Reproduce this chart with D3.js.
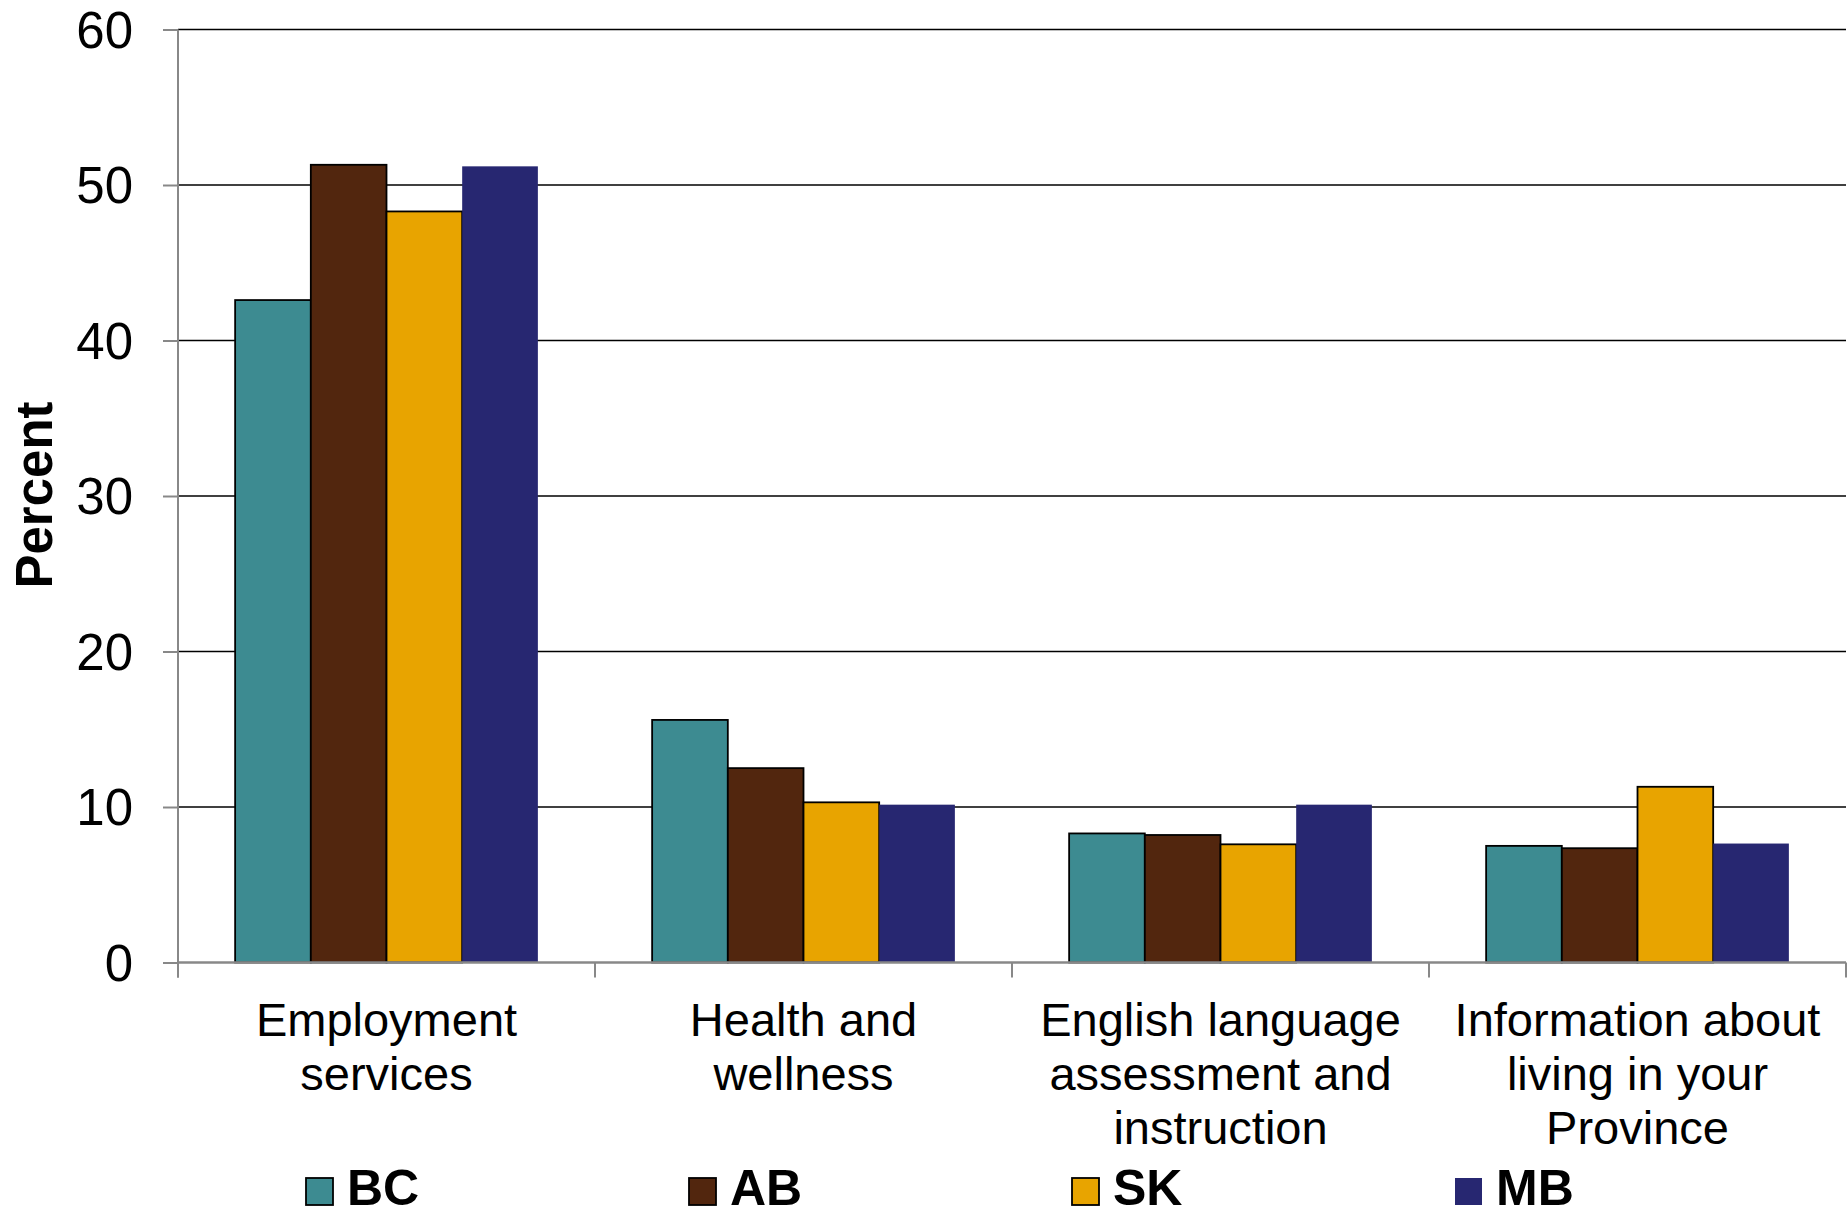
<!DOCTYPE html>
<html>
<head>
<meta charset="utf-8">
<script src="https://cdn.jsdelivr.net/npm/d3@7"></script>
<style>
  html, body { margin: 0; padding: 0; background: #fff; }
  svg { display: block; font-family: "Liberation Sans", Arial, sans-serif; }
</style>
</head>
<body>
<svg id="chart" width="1847" height="1218"></svg>
<script>
const categories = [
  ["Employment", "services"],
  ["Health and", "wellness"],
  ["English language", "assessment and", "instruction"],
  ["Information about", "living in your", "Province"]
];
const seriesNames = ["BC", "AB", "SK", "MB"];
const BC = [42.6, 15.6, 8.3, 7.5];
const AB = [51.3, 12.5, 8.2, 7.35];
const SK = [48.3, 10.3, 7.6, 11.3];
const MB = [51.2, 10.15, 10.15, 7.65];
const seriesValues = [BC, AB, SK, MB];
const yTicks = [0, 10, 20, 30, 40, 50, 60];
const colors = ["#3D8B91", "#52260E", "#E8A400", "#272771"];
const outlined = [true, true, true, false];

(function () {
const svg = d3.select("#chart");
const pLeft = 178, pRight = 1846, pTop = 29.5, pBottom = 962.5;

const x0 = d3.scaleBand().domain(d3.range(categories.length)).range([pLeft, pRight]).paddingInner(0).paddingOuter(0);
const groupFrac = 257 / 354;
const x1 = d3.scaleBand().domain(d3.range(seriesNames.length))
  .range([0, x0.bandwidth() * groupFrac]).padding(0);
const groupOffset = x0.bandwidth() * (1 - groupFrac) / 2;
const y = d3.scaleLinear().domain([0, 60]).range([pBottom, pTop]);

// gridlines
svg.append("g").selectAll("line").data(yTicks.filter(d => d > 0)).join("line")
  .attr("x1", pLeft).attr("x2", pRight)
  .attr("y1", d => y(d)).attr("y2", d => y(d))
  .attr("stroke", "#000").attr("stroke-width", 1.6);

// bars
const groups = svg.append("g").selectAll("g").data(categories).join("g")
  .attr("transform", (d, i) => `translate(${x0(i) + groupOffset},0)`);
groups.each(function(cat, ci) {
  d3.select(this).selectAll("rect").data(seriesNames).join("rect")
    .attr("x", (s, si) => x1(si))
    .attr("width", x1.bandwidth())
    .attr("y", (s, si) => y(seriesValues[si][ci]))
    .attr("height", (s, si) => pBottom - y(seriesValues[si][ci]))
    .attr("fill", (s, si) => colors[si])
    .attr("stroke", (s, si) => outlined[si] ? "#000" : "none")
    .attr("stroke-width", 1.8);
});

// y axis
const yAxis = d3.axisLeft(y).tickValues(yTicks).tickSize(15).tickPadding(30).tickFormat(d3.format("d"));
const gy = svg.append("g").attr("transform", `translate(${pLeft},0)`).call(yAxis);
gy.select(".domain").attr("stroke", "#888").attr("stroke-width", 2).attr("d", `M0,${pTop}V${pBottom + 15}`);
gy.selectAll(".tick line").attr("stroke", "#888").attr("stroke-width", 2);
gy.selectAll(".tick text").attr("font-size", 51).attr("fill", "#000")
  .attr("font-family", "Liberation Sans, Arial, sans-serif").attr("dy", "0.35em");

// x axis
const xTickPositions = d3.range(categories.length + 1).map(i => pLeft + i * x0.step());
const gx = svg.append("g");
gx.append("line").attr("x1", pLeft).attr("x2", pRight).attr("y1", pBottom).attr("y2", pBottom)
  .attr("stroke", "#888").attr("stroke-width", 2.5);
gx.selectAll("line.tk").data(xTickPositions).join("line").attr("class", "tk")
  .attr("x1", d => d).attr("x2", d => d).attr("y1", pBottom).attr("y2", pBottom + 15)
  .attr("stroke", "#888").attr("stroke-width", 2);

// category labels
const labels = svg.append("g").selectAll("text").data(categories).join("text")
  .attr("x", (d, i) => x0(i) + x0.bandwidth() / 2)
  .attr("y", 1036)
  .attr("text-anchor", "middle")
  .attr("font-size", 47)
  .attr("fill", "#000");
labels.each(function(lines) {
  const self = d3.select(this);
  self.selectAll("tspan").data(lines).join("tspan")
    .attr("x", self.attr("x"))
    .attr("dy", (l, i) => i === 0 ? 0 : 54)
    .text(l => l);
});

// y title
svg.append("text")
  .attr("transform", "translate(52,495) rotate(-90)")
  .attr("text-anchor", "middle")
  .attr("font-size", 51)
  .attr("font-weight", "bold")
  .attr("fill", "#000")
  .text("Percent");

// legend
const legendX = [306, 689, 1072, 1455];
const lg = svg.append("g").selectAll("g").data(seriesNames).join("g")
  .attr("transform", (d, i) => `translate(${legendX[i]},0)`);
lg.append("rect").attr("x", 0).attr("y", 1178).attr("width", 27).attr("height", 27)
  .attr("fill", (d, i) => colors[i])
  .attr("stroke", (d, i) => outlined[i] ? "#000" : "none").attr("stroke-width", 1.8);
lg.append("text").attr("x", 41).attr("y", 1205)
  .attr("font-size", 50).attr("font-weight", "bold").attr("fill", "#000")
  .text(d => d);
})();
</script>
</body>
</html>
